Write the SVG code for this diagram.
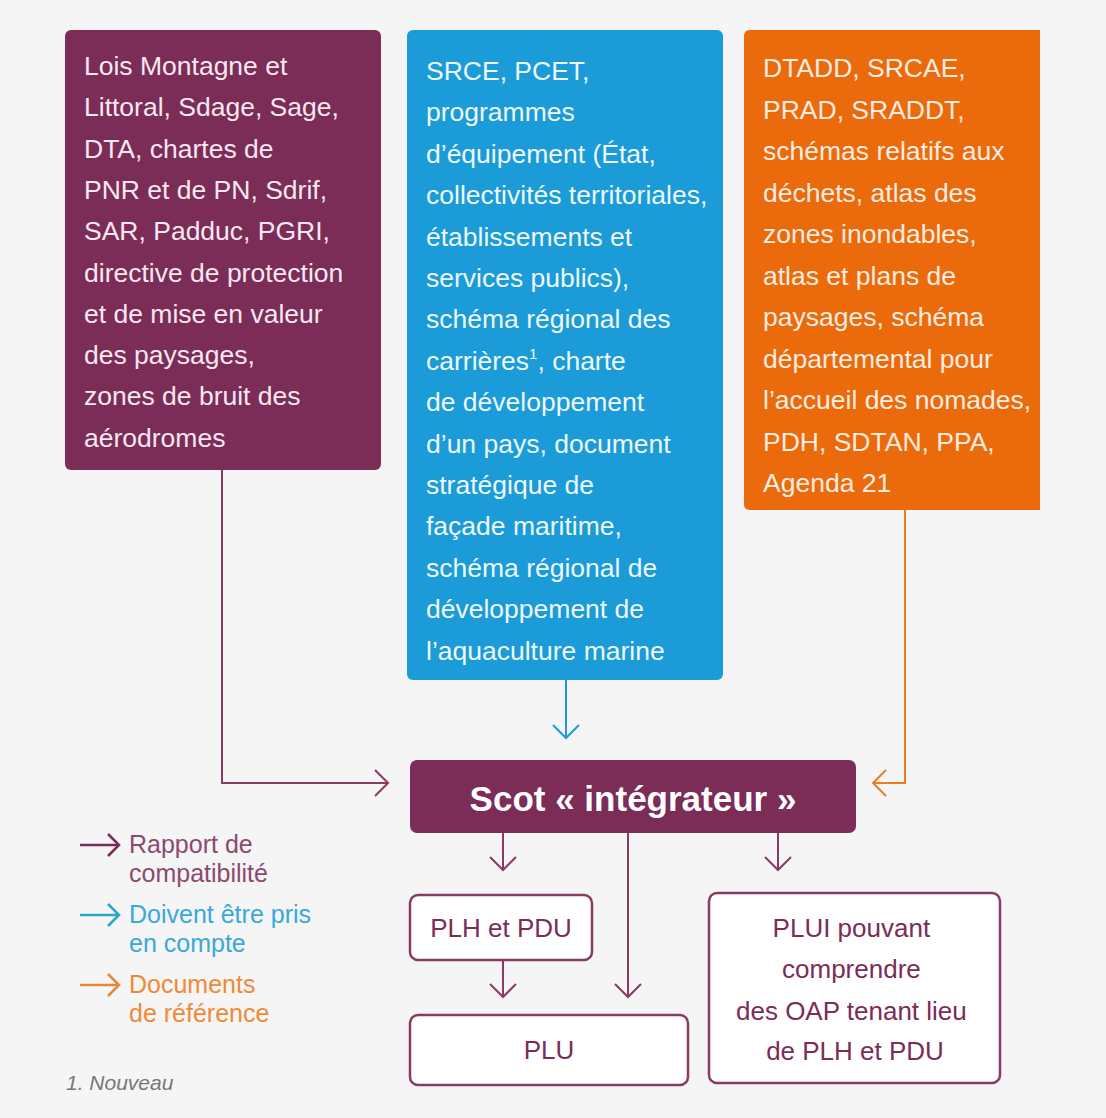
<svg xmlns="http://www.w3.org/2000/svg" width="1106" height="1118" viewBox="0 0 1106 1118">
<style>
.bt{font-family:"Liberation Sans",Arial,sans-serif;font-size:26.5px}
.w1{fill:#f8e8f0}.w2{fill:#eef8fd}.w3{fill:#fdece0}
.pt{font-family:"Liberation Sans",Arial,sans-serif;font-size:26px;fill:#7b2c57;text-anchor:middle}
.lg{font-family:"Liberation Sans",Arial,sans-serif;font-size:25px}
.wb{fill:#ffffff;stroke:#8a3a63;stroke-width:2.5}
</style>
<defs>
<marker id="hp" viewBox="0 0 16 28" refX="14" refY="14" markerWidth="16" markerHeight="28" markerUnits="userSpaceOnUse" orient="auto"><path d="M1,1 L14,14 L1,27" fill="none" stroke="#8a3a63" stroke-width="2"/></marker>
<marker id="hb" viewBox="0 0 16 28" refX="14" refY="14" markerWidth="16" markerHeight="28" markerUnits="userSpaceOnUse" orient="auto"><path d="M1,1 L14,14 L1,27" fill="none" stroke="#1b9bd7" stroke-width="2"/></marker>
<marker id="ho" viewBox="0 0 16 28" refX="14" refY="14" markerWidth="16" markerHeight="28" markerUnits="userSpaceOnUse" orient="auto"><path d="M1,1 L14,14 L1,27" fill="none" stroke="#ee7d22" stroke-width="2"/></marker>
<marker id="lp" viewBox="0 0 14 24" refX="12" refY="12" markerWidth="14" markerHeight="24" markerUnits="userSpaceOnUse" orient="auto"><path d="M1,1 L12,12 L1,23" fill="none" stroke="#7b2c57" stroke-width="2.5"/></marker>
<marker id="lb" viewBox="0 0 14 24" refX="12" refY="12" markerWidth="14" markerHeight="24" markerUnits="userSpaceOnUse" orient="auto"><path d="M1,1 L12,12 L1,23" fill="none" stroke="#2aa6c8" stroke-width="2.5"/></marker>
<marker id="lo" viewBox="0 0 14 24" refX="12" refY="12" markerWidth="14" markerHeight="24" markerUnits="userSpaceOnUse" orient="auto"><path d="M1,1 L12,12 L1,23" fill="none" stroke="#e08a3c" stroke-width="2.5"/></marker>
</defs>
<rect x="0" y="0" width="1106" height="1118" fill="#f5f5f5"/>

<g id="connectors" fill="none" stroke-width="2">
<path d="M222,470 V783 H388" stroke="#8a3a63" marker-end="url(#hp)"/>
<path d="M566,680 V738" stroke="#1b9bd7" marker-end="url(#hb)"/>
<path d="M905,510 V783 H873" stroke="#ee7d22" marker-end="url(#ho)"/>
<path d="M503,833 V870" stroke="#8a3a63" marker-end="url(#hp)"/>
<path d="M628,833 V997" stroke="#8a3a63" marker-end="url(#hp)"/>
<path d="M778,833 V870" stroke="#8a3a63" marker-end="url(#hp)"/>
<path d="M503,960 V997" stroke="#8a3a63" marker-end="url(#hp)"/>
</g>

<g id="box-compatibilite">
<rect x="65" y="30" width="316" height="440" rx="6" fill="#7b2c57"/>
<text class="bt w1" x="84">
<tspan x="84" y="75">Lois Montagne et</tspan>
<tspan x="84" y="116.3">Littoral, Sdage, Sage,</tspan>
<tspan x="84" y="157.6">DTA, chartes de</tspan>
<tspan x="84" y="198.9">PNR et de PN, Sdrif,</tspan>
<tspan x="84" y="240.2">SAR, Padduc, PGRI,</tspan>
<tspan x="84" y="281.5">directive de protection</tspan>
<tspan x="84" y="322.8">et de mise en valeur</tspan>
<tspan x="84" y="364.1">des paysages,</tspan>
<tspan x="84" y="405.4">zones de bruit des</tspan>
<tspan x="84" y="446.7">aérodromes</tspan>
</text>
</g>

<g id="box-prise-en-compte">
<rect x="407" y="30" width="316" height="650" rx="6" fill="#1b9bd7"/>
<text class="bt w2">
<tspan x="426" y="80">SRCE, PCET,</tspan>
<tspan x="426" y="121.4">programmes</tspan>
<tspan x="426" y="162.8">d’équipement (État,</tspan>
<tspan x="426" y="204.2">collectivités territoriales,</tspan>
<tspan x="426" y="245.6">établissements et</tspan>
<tspan x="426" y="287">services publics),</tspan>
<tspan x="426" y="328.4">schéma régional des</tspan>
<tspan x="426" y="369.8">carrières<tspan font-size="15" dy="-11">1</tspan><tspan dy="11">, charte</tspan></tspan>
<tspan x="426" y="411.2">de développement</tspan>
<tspan x="426" y="452.6">d’un pays, document</tspan>
<tspan x="426" y="494">stratégique de</tspan>
<tspan x="426" y="535.4">façade maritime,</tspan>
<tspan x="426" y="576.8">schéma régional de</tspan>
<tspan x="426" y="618.2">développement de</tspan>
<tspan x="426" y="659.6">l’aquaculture marine</tspan>
</text>
</g>

<g id="box-reference">
<path d="M750,30 H1040 V510 H750 Q744,510 744,504 V36 Q744,30 750,30 Z" fill="#ea6a0c"/>
<text class="bt w3">
<tspan x="763" y="77">DTADD, SRCAE,</tspan>
<tspan x="763" y="118.5">PRAD, SRADDT,</tspan>
<tspan x="763" y="160">schémas relatifs aux</tspan>
<tspan x="763" y="201.5">déchets, atlas des</tspan>
<tspan x="763" y="243">zones inondables,</tspan>
<tspan x="763" y="284.5">atlas et plans de</tspan>
<tspan x="763" y="326">paysages, schéma</tspan>
<tspan x="763" y="367.5">départemental pour</tspan>
<tspan x="763" y="409">l’accueil des nomades,</tspan>
<tspan x="763" y="450.5">PDH, SDTAN, PPA,</tspan>
<tspan x="763" y="492">Agenda 21</tspan>
</text>
</g>

<g id="scot">
<rect x="410" y="760" width="446" height="73" rx="7" fill="#7b2c57"/>
<text x="633" y="811" text-anchor="middle" font-family="'Liberation Sans',Arial,sans-serif" font-size="35" font-weight="bold" fill="#ffffff">Scot « intégrateur »</text>
</g>

<g id="plh-pdu">
<rect class="wb" x="410" y="895" width="182" height="65" rx="8"/>
<text class="pt" x="501" y="937">PLH et PDU</text>
</g>

<g id="plu">
<rect class="wb" x="410" y="1015" width="278" height="70" rx="8"/>
<text class="pt" x="549" y="1059">PLU</text>
</g>

<g id="plui">
<rect class="wb" x="709" y="893" width="291" height="190" rx="8"/>
<text class="pt">
<tspan x="855" y="937">PLUI pouvant</tspan>
<tspan x="855" y="978">comprendre</tspan>
<tspan x="855" y="1020">des OAP tenant lieu</tspan>
<tspan x="855" y="1060">de PLH et PDU</tspan>
</text>
</g>

<g id="legend">
<line x1="80" y1="845" x2="119" y2="845" stroke="#7b2c57" stroke-width="2.5" marker-end="url(#lp)"/>
<text class="lg" fill="#8b4a70"><tspan x="129" y="853">Rapport de</tspan><tspan x="129" y="882">compatibilité</tspan></text>
<line x1="80" y1="915" x2="119" y2="915" stroke="#2aa6c8" stroke-width="2.5" marker-end="url(#lb)"/>
<text class="lg" fill="#3aa8d8"><tspan x="129" y="923">Doivent être pris</tspan><tspan x="129" y="952">en compte</tspan></text>
<line x1="80" y1="985" x2="119" y2="985" stroke="#e08a3c" stroke-width="2.5" marker-end="url(#lo)"/>
<text class="lg" fill="#ee8a3a"><tspan x="129" y="993">Documents</tspan><tspan x="129" y="1022">de référence</tspan></text>
<text x="66" y="1090" font-family="'Liberation Sans',Arial,sans-serif" font-size="21" font-style="italic" fill="#777777">1. Nouveau</text>
</g>
</svg>
